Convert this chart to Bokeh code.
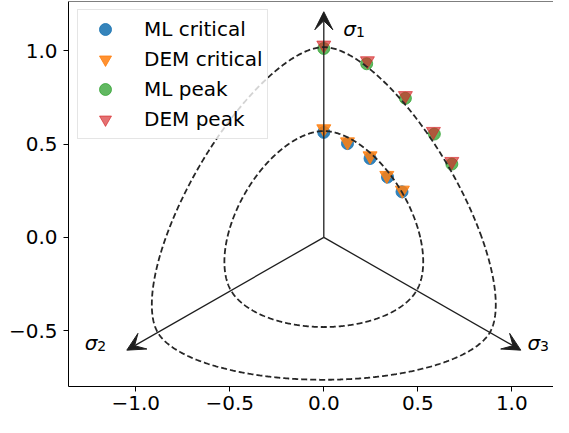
import numpy as np
from bokeh.plotting import figure
from bokeh.models import Arrow, VeeHead, FixedTicker, Span, Legend, LegendItem
from bokeh.core.properties import value
from bokeh.embed import file_html
from bokeh.resources import INLINE

# ---------------- data ----------------
ml_crit_x = [0.0, 0.126, 0.246, 0.339, 0.416]
ml_crit_y = [0.563, 0.503, 0.423, 0.323, 0.244]
dem_crit_x = [0.0, 0.126, 0.246, 0.335, 0.418]
dem_crit_y = [0.582, 0.512, 0.437, 0.332, 0.253]
ml_peak_x = [0.0, 0.228, 0.434, 0.588, 0.681]
ml_peak_y = [1.013, 0.931, 0.746, 0.554, 0.393]
dem_peak_x = [0.0, 0.232, 0.434, 0.583, 0.681]
dem_peak_y = [1.031, 0.947, 0.760, 0.568, 0.407]

# yield surfaces: radius on compression / extension meridians
surface_rc = [0.57, 1.02]
surface_rt = [0.481, 0.764]

axis_angles_deg = [90, 210, 330]
axis_length = 1.21
axis_names = ["σ", "σ", "σ"]
axis_subs = ["1", "2", "3"]
axis_label_x = [0.104, -1.272, 1.083]
axis_label_y = [1.12, -0.565, -0.565]

x_ticks = [-1.0, -0.5, 0.0, 0.5, 1.0]
y_ticks = [-0.5, 0.0, 0.5, 1.0]
x_tick_labels = ["−1.0", "−0.5", "0.0", "0.5", "1.0"]
y_tick_labels = ["−0.5", "0.0", "0.5", "1.0"]

X_RANGE = (-1.358, 1.2218)
Y_RANGE = (-0.800, 1.265)


def ww_radius(theta, rc, rt):
    """Willam-Warnke deviatoric shape, theta = Lode angle from extension meridian."""
    c = np.cos(theta)
    d = rc ** 2 - rt ** 2
    num = 2 * rc * d * c + rc * (2 * rt - rc) * np.sqrt(4 * d * c ** 2 + 5 * rt ** 2 - 4 * rt * rc)
    den = 4 * d * c ** 2 + (rc - 2 * rt) ** 2
    return num / den


phi = np.linspace(0, 2 * np.pi, 1081)
dd = np.mod(phi - np.radians(30), np.radians(120))
lode = np.minimum(dd, np.radians(120) - dd)

p = figure(width=553, height=417, x_range=X_RANGE, y_range=Y_RANGE,
           output_backend="svg", toolbar_location=None,
           min_border_left=68, min_border_right=0, min_border_top=1, min_border_bottom=31)
p.background_fill_color = "white"
p.border_fill_color = "white"
p.outline_line_color = None
p.xgrid.visible = False
p.ygrid.visible = False

for ax, ticks, labels, standoff in ((p.xaxis[0], x_ticks, x_tick_labels, 4),
                                    (p.yaxis[0], y_ticks, y_tick_labels, 6)):
    ax.ticker = FixedTicker(ticks=ticks)
    ax.major_label_overrides = {t: l for t, l in zip(ticks, labels)}
    ax.axis_line_color = "black"
    ax.axis_line_width = 1
    ax.major_tick_line_color = "black"
    ax.major_tick_out = 5
    ax.major_tick_in = 0
    ax.minor_tick_line_color = None
    ax.major_label_text_font = "DejaVu Sans"
    ax.major_label_text_font_size = "20px"
    ax.major_label_text_color = "black"
    ax.major_label_standoff = standoff

p.add_layout(Span(location=Y_RANGE[1], dimension="width", line_color="black", line_width=1))

# points
r1 = p.scatter(ml_crit_x, ml_crit_y, marker="circle", size=12, color="#1f77b4", alpha=0.9)
r2 = p.scatter(dem_crit_x, dem_crit_y, marker="inverted_triangle", size=14, color="#ff7f0e", alpha=0.85)
r3 = p.scatter(ml_peak_x, ml_peak_y, marker="circle", size=12, color="#2ca02c", alpha=0.75)
r4 = p.scatter(dem_peak_x, dem_peak_y, marker="inverted_triangle", size=14, color="#d62728", alpha=0.65)

# yield surfaces
for rc, rt in zip(surface_rc, surface_rt):
    r = ww_radius(lode, rc, rt)
    p.line(r * np.cos(phi), r * np.sin(phi), line_color="#262626", line_width=1.8, line_dash="6 3")

# principal stress axes
for ang in axis_angles_deg:
    a = np.radians(ang)
    p.add_layout(Arrow(x_start=0, y_start=0,
                       x_end=axis_length * np.cos(a), y_end=axis_length * np.sin(a),
                       line_color="#1e1e1e", line_width=1.3,
                       end=VeeHead(size=18, fill_color="#1e1e1e", line_color="#1e1e1e", line_width=1)))

p.text(axis_label_x, axis_label_y, text=axis_names, text_font=value("DejaVu Sans"),
       text_font_style="italic", text_font_size="20px", text_baseline="alphabetic",
       text_align="left", text_color="black")
p.text(axis_label_x, axis_label_y, text=axis_subs, text_font=value("DejaVu Sans"),
       text_font_size="14px", text_baseline="alphabetic", text_align="left",
       text_color="black", x_offset=12.7, y_offset=3)

legend = Legend(items=[LegendItem(label="ML critical", renderers=[r1]),
                       LegendItem(label="DEM critical", renderers=[r2]),
                       LegendItem(label="ML peak", renderers=[r3]),
                       LegendItem(label="DEM peak", renderers=[r4])],
                location=(9, 247))
legend.label_text_font = "DejaVu Sans"
legend.label_text_font_size = "20px"
legend.label_text_color = "black"
legend.padding = 4
legend.spacing = 0
legend.glyph_width = 46
legend.glyph_height = 30
legend.label_height = 24
legend.label_standoff = 16
legend.border_line_color = "#cccccc"
legend.border_line_width = 1
legend.background_fill_color = "white"
legend.background_fill_alpha = 0.8
legend.margin = 0
p.add_layout(legend)

open("out.html", "w").write(file_html(p, INLINE))
